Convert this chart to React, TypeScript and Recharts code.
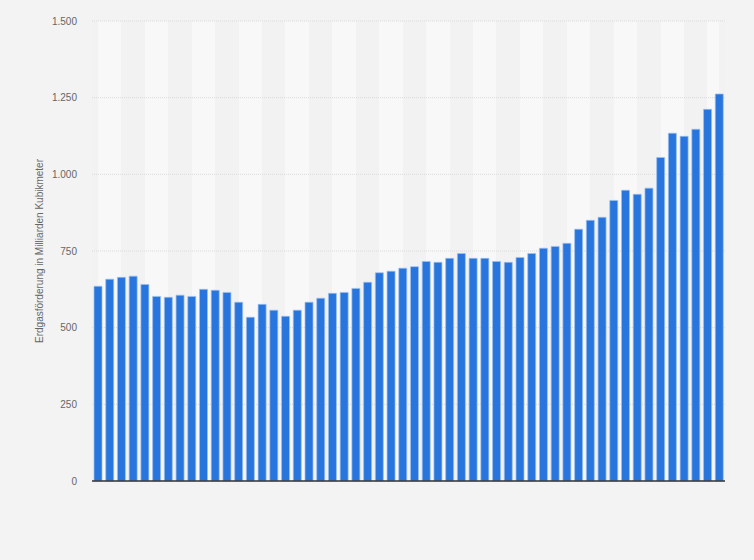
import React from 'react'
import { BarChart, Bar, XAxis, YAxis, CartesianGrid } from 'recharts'

// one bar per year, no x labels are shown in the chart
const years = [
  '1970', '1971', '1972', '1973', '1974', '1975', '1976', '1977', '1978', '1979',
  '1980', '1981', '1982', '1983', '1984', '1985', '1986', '1987', '1988', '1989',
  '1990', '1991', '1992', '1993', '1994', '1995', '1996', '1997', '1998', '1999',
  '2000', '2001', '2002', '2003', '2004', '2005', '2006', '2007', '2008', '2009',
  '2010', '2011', '2012', '2013', '2014', '2015', '2016', '2017', '2018', '2019',
  '2020', '2021', '2022', '2023',
]

const production = [
  635, 658, 664, 668, 641, 602, 599, 606, 602, 625,
  622, 615, 583, 534, 576, 557, 537, 557, 583, 596,
  612, 615, 628, 648, 679, 684, 694, 699, 716, 713,
  726, 742, 726, 726, 716, 713, 729, 742, 759, 765,
  775, 821, 850, 860, 915, 948, 935, 955, 1055, 1134,
  1124, 1147, 1212, 1262,
]

const yTicks = [0, 250, 500, 750, 1000, 1250, 1500]

const data = years.map((year, i) => ({ year, value: production[i] }))

const fmt = (v: number) => v.toLocaleString('de-DE')

// band centre of category i, via the axis scale when it is usable
const bandCentre = (scale: any, offset: any, i: number) => {
  const step = offset.width / years.length
  let start: any
  if (typeof scale === 'function') start = scale(years[i])
  else if (scale && typeof scale.map === 'function') start = scale.map(years[i])
  let bw: any = 0
  if (scale && typeof scale.bandwidth === 'function') bw = scale.bandwidth()
  if (!Number.isFinite(start) || !Number.isFinite(bw)) return offset.left + (i + 0.5) * step
  return start + bw / 2
}

// stripes run from bar centre to bar centre, two bars wide
const stripeCoords = ({ xAxis, offset }: any) => {
  if (!offset) return []
  const scale = xAxis ? xAxis.scale : undefined
  const pts: number[] = [offset.left]
  for (let i = 0; i < years.length; i += 2) pts.push(bandCentre(scale, offset, i))
  pts.push(bandCentre(scale, offset, years.length - 1))
  return pts.filter(p => Number.isFinite(p))
}

const AxisTitle = ({ viewBox }: any) => {
  if (!viewBox) return null
  const x = viewBox.x + 39.5
  const y = viewBox.y + viewBox.height / 2
  return (
    <text
      x={x}
      y={y}
      transform={`rotate(-90, ${x}, ${y})`}
      textAnchor="middle"
      dominantBaseline="central"
      fontSize={10}
      fill="#666"
    >
      Erdgasförderung in Milliarden Kubikmeter
    </text>
  )
}

export default function App() {
  return (
    <div
      style={{
        position: 'absolute',
        left: 0,
        top: 0,
        width: 754,
        height: 560,
        background: '#f3f3f3',
        fontFamily: '"Liberation Sans", Arial, sans-serif',
      }}
    >
      <BarChart
        width={754}
        height={560}
        data={data}
        margin={{ top: 21, right: 29, left: 0, bottom: 78 }}
      >
        <CartesianGrid
          horizontal={false}
          vertical={true}
          stroke="none"
          verticalFill={['#f2f2f2', '#f8f8f8']}
          verticalCoordinatesGenerator={stripeCoords}
        />
        <CartesianGrid
          vertical={false}
          stroke="#dadada"
          strokeDasharray="1 1"
        />
        <XAxis
          dataKey="year"
          height={1}
          tick={false}
          tickLine={false}
          axisLine={{ stroke: '#333', strokeWidth: 1.5 }}
        />
        <YAxis
          width={92}
          domain={[0, 1500]}
          ticks={yTicks}
          tickFormatter={fmt}
          tickSize={0}
          tickMargin={15}
          tickLine={false}
          axisLine={false}
          tick={{ fill: '#666', fontSize: 10 }}
          label={{ content: AxisTitle }}
        />
        <Bar
          dataKey="value"
          fill="#2876dd"
          stroke="#9cc0f0"
          strokeOpacity={0.7}
          strokeWidth={1}
          barSize={8}
          isAnimationActive={false}
        />
      </BarChart>
    </div>
  )
}
